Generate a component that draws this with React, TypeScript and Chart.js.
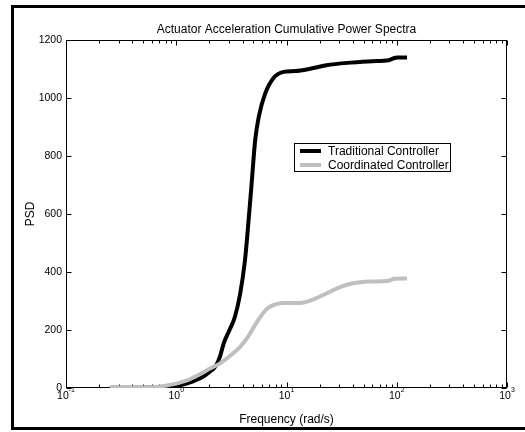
import React, { useEffect, useRef } from 'react';
import { Chart, registerables } from 'chart.js';

Chart.register(...registerables);

// ---- data ----
const traditionalFreq = [0.25, 0.4, 0.6, 0.8, 1.0, 1.2, 1.4, 1.7, 2.0, 2.3, 2.5, 2.7, 3.0, 3.4, 3.8, 4.2, 4.5, 4.85, 5.2, 5.6, 6.4, 7.6, 9.4, 12, 16, 23, 38, 60, 85, 92, 102, 124];
const traditionalPSD = [1, 1, 2, 4, 8, 14, 22, 36, 55, 78, 110, 155, 195, 245, 325, 440, 565, 715, 855, 935, 1015, 1068, 1090, 1093, 1100, 1113, 1122, 1127, 1130, 1136, 1140, 1140];

const coordinatedFreq = [0.25, 0.4, 0.6, 0.8, 1.0, 1.25, 1.65, 2.0, 2.5, 3.1, 3.8, 4.5, 5.4, 6.6, 7.5, 8.8, 10, 12.4, 14.3, 17.6, 23, 31, 40, 57, 85, 95, 124];
const coordinatedPSD = [2, 2, 3, 8, 15, 26, 48, 66, 85, 112, 142, 178, 228, 272, 285, 292, 293, 293, 295, 306, 326, 349, 361, 367, 370, 377, 378];

const xDecades = [-1, 0, 1, 2, 3];
const yTicks = [0, 200, 400, 600, 800, 1000, 1200];

const titleText = 'Actuator Acceleration Cumulative Power Spectra';
const xLabel = 'Frequency (rad/s)';
const yLabel = 'PSD';
const seriesNames = ['Traditional Controller', 'Coordinated Controller'];
const seriesColors = ['#000000', '#bfbfbf'];

const FONT = '"Liberation Sans", Arial, Helvetica, sans-serif';

const matlabPlugin = {
  id: 'matlabLook',
  beforeDraw(chart: any) {
    const ctx = chart.ctx;
    ctx.save();
    ctx.fillStyle = '#ffffff';
    ctx.fillRect(0, 0, chart.width, chart.height);
    // outer figure frame
    ctx.strokeStyle = '#000000';
    ctx.lineWidth = 3;
    ctx.strokeRect(12.5, 6.5, 530, 422);
    ctx.restore();
  },
  beforeDatasetsDraw(chart: any) {
    const ctx = chart.ctx;
    const a = chart.chartArea;
    const x = chart.scales.x;
    const y = chart.scales.y;
    const L = Math.round(a.left) + 0.5;
    const R = Math.round(a.right) - 0.5;
    const T = Math.round(a.top) + 0.5;
    const B = Math.round(a.bottom) - 0.5;
    ctx.save();
    ctx.strokeStyle = '#000000';
    ctx.lineWidth = 1;
    ctx.strokeRect(L, T, R - L, B - T);
    ctx.beginPath();
    // x ticks (top & bottom, inward)
    xDecades.forEach((d) => {
      const base = Math.pow(10, d);
      const px = Math.round(x.getPixelForValue(base)) + 0.5;
      ctx.moveTo(px, B); ctx.lineTo(px, B - 5);
      ctx.moveTo(px, T); ctx.lineTo(px, T + 5);
      if (d < xDecades[xDecades.length - 1]) {
        for (let k = 2; k <= 9; k++) {
          const mx = Math.round(x.getPixelForValue(k * base)) + 0.5;
          ctx.moveTo(mx, B); ctx.lineTo(mx, B - 3);
          ctx.moveTo(mx, T); ctx.lineTo(mx, T + 3);
        }
      }
    });
    // y ticks (left & right, inward)
    yTicks.forEach((v) => {
      const py = Math.round(y.getPixelForValue(v)) + 0.5;
      ctx.moveTo(L, py); ctx.lineTo(L + 5, py);
      ctx.moveTo(R, py); ctx.lineTo(R - 5, py);
    });
    ctx.stroke();

    // tick labels
    ctx.fillStyle = '#000000';
    ctx.font = `10.5px ${FONT}`;
    ctx.textAlign = 'right';
    ctx.textBaseline = 'middle';
    yTicks.forEach((v) => {
      const py = y.getPixelForValue(v);
      ctx.fillText(String(v), a.left - 4, py);
    });
    xDecades.forEach((d) => {
      const px = x.getPixelForValue(Math.pow(10, d));
      ctx.font = `10.5px ${FONT}`;
      const baseW = ctx.measureText('10').width;
      ctx.font = `7px ${FONT}`;
      const exp = String(d);
      const expW = ctx.measureText(exp).width;
      const start = px - (baseW + expW) / 2;
      ctx.textAlign = 'left';
      ctx.textBaseline = 'alphabetic';
      ctx.font = `10.5px ${FONT}`;
      ctx.fillText('10', start, a.bottom + 10.5);
      ctx.font = `7px ${FONT}`;
      ctx.fillText(exp, start + baseW, a.bottom + 4);
    });

    // title and axis labels
    ctx.font = `12px ${FONT}`;
    ctx.textAlign = 'center';
    ctx.textBaseline = 'alphabetic';
    const cx = (a.left + a.right) / 2;
    ctx.fillText(titleText, cx, 32.5);
    ctx.fillText(xLabel, cx, 423);
    ctx.save();
    ctx.translate(31, (a.top + a.bottom) / 2);
    ctx.rotate(-Math.PI / 2);
    ctx.textBaseline = 'middle';
    ctx.fillText(yLabel, 0, 0);
    ctx.restore();
    ctx.restore();
  },
  afterDraw(chart: any) {
    const ctx = chart.ctx;
    const bx = 294.5, by = 143.5, bw = 156, bh = 28;
    ctx.save();
    ctx.fillStyle = '#ffffff';
    ctx.fillRect(bx, by, bw, bh);
    ctx.strokeStyle = '#000000';
    ctx.lineWidth = 1;
    ctx.strokeRect(bx, by, bw, bh);
    ctx.font = `12px ${FONT}`;
    ctx.textAlign = 'left';
    ctx.textBaseline = 'middle';
    chart.data.datasets.forEach((ds: any, i: number) => {
      const ry = by + 7.5 + i * 14;
      ctx.strokeStyle = ds.borderColor;
      ctx.lineWidth = 4;
      ctx.beginPath();
      ctx.moveTo(300, ry);
      ctx.lineTo(321, ry);
      ctx.stroke();
      ctx.fillStyle = '#000000';
      ctx.fillText(ds.label, 328, ry + 0.5);
    });
    ctx.restore();
  },
};

export default function App() {
  const canvasRef = useRef<HTMLCanvasElement | null>(null);

  useEffect(() => {
    if (!canvasRef.current) return;
    const chart = new Chart(canvasRef.current, {
      type: 'line',
      data: {
        datasets: [
          {
            label: seriesNames[0],
            data: traditionalFreq.map((f, i) => ({ x: f, y: traditionalPSD[i] })),
            borderColor: seriesColors[0],
            borderWidth: 4,
            pointRadius: 0,
            cubicInterpolationMode: 'monotone',
            fill: false,
            order: 2,
          },
          {
            label: seriesNames[1],
            data: coordinatedFreq.map((f, i) => ({ x: f, y: coordinatedPSD[i] })),
            borderColor: seriesColors[1],
            borderWidth: 4,
            pointRadius: 0,
            cubicInterpolationMode: 'monotone',
            fill: false,
            order: 1,
          },
        ],
      },
      options: {
        animation: false,
        responsive: false,
        devicePixelRatio: 1,
        layout: { padding: { left: 66, right: 18, top: 40, bottom: 44 } },
        plugins: { legend: { display: false }, tooltip: { enabled: false }, title: { display: false } },
        scales: {
          x: { type: 'logarithmic', min: 0.1, max: 1000, display: false },
          y: { type: 'linear', min: 0, max: 1200, display: false },
        },
      },
      plugins: [matlabPlugin],
    });
    return () => chart.destroy();
  }, []);

  return (
    <div style={{ position: 'fixed', left: 0, top: 0, width: 525, height: 432, background: '#fff' }}>
      <canvas ref={canvasRef} width={525} height={432} style={{ display: 'block' }} />
    </div>
  );
}
